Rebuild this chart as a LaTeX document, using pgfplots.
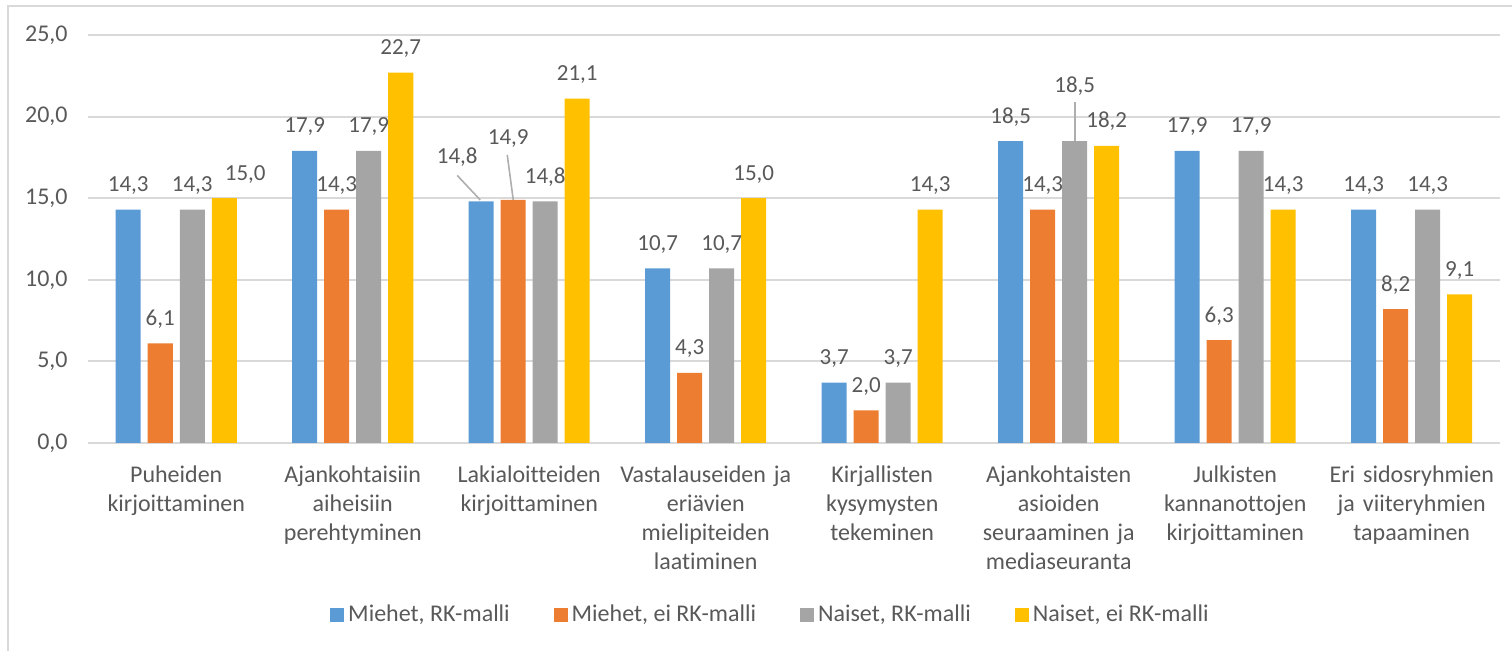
\documentclass[border=0pt]{standalone}
\usepackage{fontspec}
\setmainfont{Carlito}[Ligatures=NoCommon]
\usepackage{pgfplots}
\pgfplotsset{compat=1.18}
\usepackage{pgfplotstable}

\definecolor{cBlue}{HTML}{5B9BD5}
\definecolor{cOrange}{HTML}{ED7D31}
\definecolor{cGray}{HTML}{A5A5A5}
\definecolor{cYellow}{HTML}{FFC000}
\definecolor{txt}{HTML}{595959}
\definecolor{gridc}{HTML}{D9D9D9}

% x = category index, y = value, dx/dy = extra label shift (pt)
\pgfplotstableread{
x y dx dy
0 14.3 0 0
1 17.9 0 0
2 14.8 -12 9.75
3 10.7 0 0
4 3.7 0 0
5 18.5 0 0
6 17.9 0 0
7 14.3 0 0
}\mrk
\pgfplotstableread{
x y dx dy
0 6.1 0 0
1 14.3 0 0
2 14.9 -2.5 18.9
3 4.3 0 0
4 2.0 0 0
5 14.3 0 0
6 6.3 0 0
7 8.2 0 0
}\meirk
\pgfplotstableread{
x y dx dy
0 14.3 0 0
1 17.9 0 0
2 14.8 0 0
3 10.7 0 0
4 3.7 0 0
5 18.5 0 15.5
6 17.9 0 0
7 14.3 0 0
}\nrk
\pgfplotstableread{
x y dx dy
0 15.0 10.5 0
1 22.7 0 0
2 21.1 0 0
3 15.0 0 0
4 14.3 0 0
5 18.2 0 0
6 14.3 0 0
7 9.1 0 0
}\neirk

\begin{document}
\begin{tikzpicture}
\path[use as bounding box] (0,0) rectangle (756pt,325.5pt);
\draw[gridc, line width=1pt] (4pt,-5pt) -- (4pt,322.5pt) -- (770pt,322.5pt);
\begin{axis}[
  at={(44pt,104pt)}, anchor=south west,
  scale only axis, width=706pt, height=204pt,
  ybar=3.5pt, bar width=12.5pt,
  xmin=-0.5, xmax=7.5, ymin=0, ymax=25,
  enlargelimits=false, clip=false,
  xtick={0,...,7},
  xticklabels={
    {Puheiden\\kirjoittaminen},
    {Ajankohtaisiin\\aiheisiin\\perehtyminen},
    {Lakialoitteiden\\kirjoittaminen},
    {Vastalauseiden ja\\eriävien\\mielipiteiden\\laatiminen},
    {Kirjallisten\\kysymysten\\tekeminen},
    {Ajankohtaisten\\asioiden\\seuraaminen ja\\mediaseuranta},
    {Julkisten\\kannanottojen\\kirjoittaminen},
    {Eri sidosryhmien\\ja viiteryhmien\\tapaaminen}},
  ytick={0,5,...,25},
  ymajorgrids, grid style={gridc, line width=1pt},
  axis x line*=bottom, axis y line*=left,
  x axis line style={gridc, line width=1pt},
  y axis line style={draw=none},
  major tick length=0pt,
  tick label style={font=\fontsize{12}{14.5}\selectfont, text=txt},
  xticklabel style={text width=100pt, align=center, anchor=north, inner sep=0pt, yshift=-11pt},
  yticklabel style={anchor=east, inner sep=0pt, xshift=-10pt,
    /pgf/number format/fixed, /pgf/number format/fixed zerofill,
    /pgf/number format/precision=1, /pgf/number format/use comma,
    /pgf/number format/assume math mode=true},
  nodes near coords={\pgfmathprintnumber[fixed,fixed zerofill,precision=1,use comma,assume math mode=true]{\pgfplotspointmeta}},
  visualization depends on={\thisrow{dx} \as \dx},
  visualization depends on={\thisrow{dy} \as \dy},
  every node near coord/.append style={font=\fontsize{11.5}{14}\selectfont, text=txt, anchor=base, inner sep=0pt, xshift=\dx pt, yshift=9pt+\dy pt},
  legend columns=4,
  legend style={at={(0.484,0)}, anchor=center, yshift=-86pt, draw=none, fill=none,
    font=\fontsize{12}{14.5}\selectfont, text=txt,
    /tikz/every even column/.append style={column sep=20pt}},
  legend image code/.code={\fill[#1,draw=none] (0pt,-3.5pt) rectangle (7pt,3.5pt);},
]
\addplot[fill=cBlue, draw=none] table[x=x,y=y] {\mrk};
\addplot[fill=cOrange, draw=none] table[x=x,y=y] {\meirk};
\addplot[fill=cGray, draw=none] table[x=x,y=y] {\nrk};
\addplot[fill=cYellow, draw=none] table[x=x,y=y] {\neirk};
\legend{{Miehet, RK-malli}, {Miehet, ei RK-malli}, {Naiset, RK-malli}, {Naiset, ei RK-malli}}
% leader lines for moved labels
\draw[cGray!90, line width=0.8pt] ([xshift=-36pt, yshift=13pt]axis cs:2,14.8) -- ([xshift=-24.5pt, yshift=0.75pt]axis cs:2,14.8);
\draw[cGray!90, line width=0.8pt] ([xshift=-11pt, yshift=22.5pt]axis cs:2,14.9) -- ([xshift=-8pt]axis cs:2,14.9);
\draw[cGray!90, line width=0.8pt] ([xshift=8pt, yshift=19.5pt]axis cs:5,18.5) -- ([xshift=8pt]axis cs:5,18.5);
\end{axis}
\end{tikzpicture}
\end{document}
